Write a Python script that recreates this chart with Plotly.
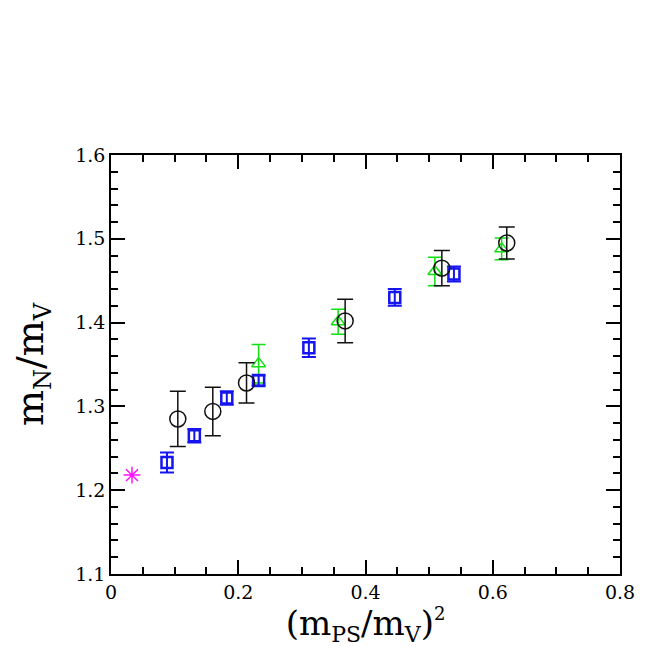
import plotly.graph_objects as go

# black circles
circ_x = [0.105, 0.160, 0.213, 0.368, 0.520, 0.622]
circ_y = [1.285, 1.294, 1.328, 1.402, 1.465, 1.495]
circ_e = [0.033, 0.029, 0.024, 0.026, 0.021, 0.019]

# blue squares
sq_x = [0.088, 0.131, 0.182, 0.232, 0.311, 0.446, 0.539]
sq_y = [1.233, 1.265, 1.310, 1.331, 1.370, 1.430, 1.458]
sq_e = [0.012, 0.008, 0.008, 0.006, 0.011, 0.010, 0.009]

# green triangles
tri_x = [0.232, 0.357, 0.509, 0.614]
tri_y = [1.351, 1.401, 1.461, 1.488]
tri_e = [0.023, 0.015, 0.017, 0.013]

# physical point
phys_x = [0.033]
phys_y = [1.218]

x_ticks = [0, 0.2, 0.4, 0.6, 0.8]
x_ticklabels = ["0", "0.2", "0.4", "0.6", "0.8"]
y_ticks = [1.1, 1.2, 1.3, 1.4, 1.5, 1.6]
y_ticklabels = ["1.1", "1.2", "1.3", "1.4", "1.5", "1.6"]

GREEN = "#10e010"
BLUE = "#1515f0"
BLACK = "#111111"
MAGENTA = "#ff10ff"

fig = go.Figure()

fig.add_trace(go.Scatter(
    x=tri_x, y=tri_y, mode="markers",
    marker=dict(symbol="triangle-up-open", size=12, color=GREEN, line=dict(width=1.5)),
    error_y=dict(type="data", array=tri_e, color=GREEN, thickness=1.5, width=7),
))
fig.add_trace(go.Scatter(
    x=sq_x, y=sq_y, mode="markers",
    marker=dict(symbol="square-open", size=11, color=BLUE, line=dict(width=2.5)),
    error_y=dict(type="data", array=sq_e, color=BLUE, thickness=2, width=7),
))
fig.add_trace(go.Scatter(
    x=circ_x, y=circ_y, mode="markers",
    marker=dict(symbol="circle-open", size=16, color=BLACK, line=dict(width=1.5)),
    error_y=dict(type="data", array=circ_e, color=BLACK, thickness=1.5, width=8),
))
fig.add_trace(go.Scatter(
    x=phys_x, y=phys_y, mode="markers",
    marker=dict(symbol="asterisk-open", size=14, color=MAGENTA, line=dict(width=1.5, color=MAGENTA)),
))

serif = "DejaVu Serif, Liberation Serif, serif"

fig.update_layout(
    width=646, height=646,
    margin=dict(l=103, r=34, t=147, b=80),
    paper_bgcolor="white", plot_bgcolor="white",
    showlegend=False,
    font=dict(family=serif, color="black"),
)
fig.update_xaxes(
    range=[0, 0.8], tickvals=x_ticks, ticktext=x_ticklabels,
    ticks="inside", ticklen=14, tickwidth=1.5, tickcolor="black",
    minor=dict(dtick=0.05, ticks="inside", ticklen=7, tickwidth=1.5, tickcolor="black"),
    showline=True, linecolor="black", linewidth=1.5, mirror="ticks",
    showgrid=False, zeroline=False,
    tickfont=dict(size=19, family=serif),
    title=dict(text="(m<sub><span style='font-size:22px'>PS</span></sub>/m<sub><span style='font-size:22px'>V</span></sub>)<sup><span style='font-size:18px'>2</span></sup>",
               font=dict(size=34, family=serif), standoff=4),
)
fig.update_yaxes(
    range=[1.1, 1.6], tickvals=y_ticks, ticktext=y_ticklabels,
    ticks="inside", ticklen=14, tickwidth=1.5, tickcolor="black",
    minor=dict(dtick=0.02, ticks="inside", ticklen=7, tickwidth=1.5, tickcolor="black"),
    showline=True, linecolor="black", linewidth=1.5, mirror="ticks",
    showgrid=False, zeroline=False,
    tickfont=dict(size=19, family=serif),
    title=dict(text="m<sub><span style='font-size:24px'>N</span></sub>/m<sub><span style='font-size:24px'>V</span></sub>",
               font=dict(size=38, family=serif), standoff=20),
)

fig.write_html("out.html")
